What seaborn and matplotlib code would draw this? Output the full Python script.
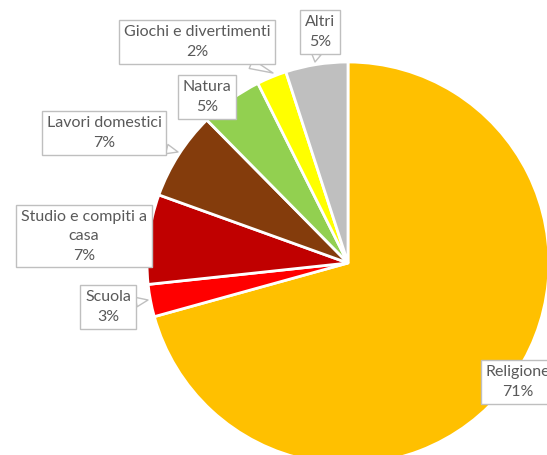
import matplotlib
matplotlib.use("Agg")
import matplotlib.pyplot as plt
import seaborn as sns

categories = ["Religione", "Scuola", "Studio e compiti a\ncasa", "Lavori domestici",
              "Natura", "Giochi e divertimenti", "Altri"]
values = [70.7, 2.6, 7.2, 7.1, 5.0, 2.4, 5.0]
colors = ["#FFC000", "#FF0000", "#C00000", "#843C0C", "#92D050", "#FFFF00", "#BFBFBF"]

sns.set_theme(style="white")
plt.rcParams["font.family"] = ["Lato", "DejaVu Sans"]

W, H = 547, 455
cx, cy, R = 348, 263, 201
fig = plt.figure(figsize=(W / 100, H / 100), dpi=100)
ax = fig.add_axes([(cx - R) / W, (H - cy - R) / H, 2 * R / W, 2 * R / H])

ax.pie(values, colors=colors, startangle=90, counterclock=False, radius=1,
       wedgeprops=dict(edgecolor="white", linewidth=2))
ax.set_xlim(-1, 1)
ax.set_ylim(-1, 1)
ax.set_aspect("equal")
ax.axis("off")

def d(px, py):
    return ((px - cx) / R, (cy - py) / R)

# label centre positions (pixels) and optional tail tips
label_pos = [(518, 382), (108, 307), (84, 236), (104, 133), (207, 97), (197, 42), (320, 32)]
tails = [None, (148, 300), None, (178, 152), None, (273, 73), (315, 62)]

total = sum(values)
for cat, v, pos, tip in zip(categories, values, label_pos, tails):
    txt = f"{cat}\n{round(v / total * 100):.0f}%"
    bbox = dict(boxstyle="square,pad=0.3", fc="white", ec="#BFBFBF", lw=1)
    if tip is None:
        ax.text(*d(*pos), txt, ha="center", va="center", fontsize=11.5, color="#595959",
                linespacing=1.5, bbox=bbox, clip_on=False)
    else:
        ax.annotate(txt, xy=d(*tip), xytext=d(*pos), ha="center", va="center",
                    fontsize=11.5, color="#595959", linespacing=1.5, bbox=bbox,
                    annotation_clip=False,
                    arrowprops=dict(arrowstyle="wedge,tail_width=0.6,shrink_factor=0.5",
                                    fc="white", ec="#BFBFBF", lw=1, shrinkA=0, shrinkB=0))

fig.savefig("out.png", dpi=100)
